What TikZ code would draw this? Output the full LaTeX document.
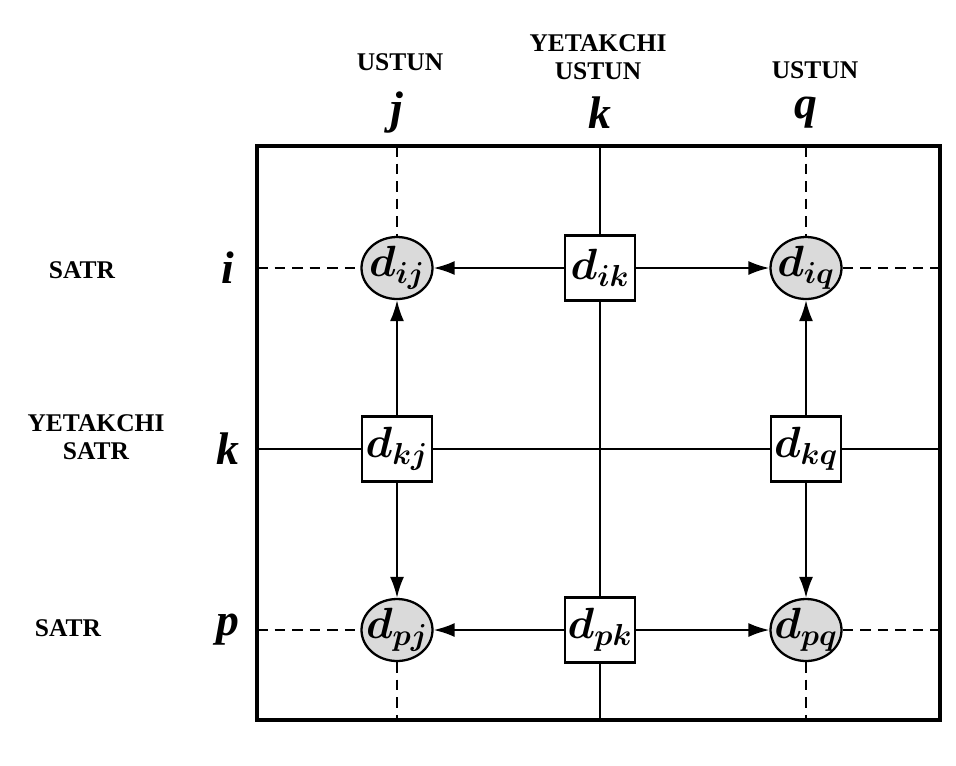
\documentclass[tikz,border=0pt]{standalone}
\usepackage{fontspec}
\setmainfont{Liberation Serif}
\usetikzlibrary{shapes.geometric,arrows.meta}
\definecolor{CellGray}{HTML}{DADADA}
\tikzset{
  pivot/.style={draw,line width=1.3pt,fill=white,minimum width=1.4cm,minimum height=1.3cm,inner sep=0pt,font=\fontsize{23}{27}\selectfont\boldmath},
  cell/.style={ellipse,draw,line width=1.3pt,fill=CellGray,minimum width=1.42cm,minimum height=1.24cm,inner xsep=-7pt,inner ysep=0pt,font=\fontsize{23}{27}\selectfont\boldmath},
  gridline/.style={line width=1.6pt},
  sideline/.style={line width=1.1pt,dash pattern=on 6pt off 4pt},
  update/.style={line width=1.2pt,-{Latex[length=4.2mm,width=2.8mm]}},
  caption/.style={font=\fontsize{14.5}{16}\selectfont\bfseries,align=center},
  index/.style={font=\fontsize{26}{28}\selectfont\bfseries\itshape}
}

\begin{document}
\begin{tikzpicture}[x=0.02cm,y=-0.02cm]
  \useasboundingbox (0,0) rectangle (956,765);
  % frame and border points
  \draw[line width=1.8pt] (257,146) rectangle (940,720);
  \coordinate (jT) at (397,146);  \coordinate (jB) at (397,720);
  \coordinate (kT) at (600,146);  \coordinate (kB) at (600,720);
  \coordinate (qT) at (806,146);  \coordinate (qB) at (806,720);
  \coordinate (iL) at (257,268);  \coordinate (iR) at (940,268);
  \coordinate (kL) at (257,449);  \coordinate (kR) at (940,449);
  \coordinate (pL) at (257,630);  \coordinate (pR) at (940,630);
  % elements
  \node[cell]  (dij) at (397,268) {$d_{ij}$};
  \node[pivot] (dik) at (600,268) {$d_{ik}$};
  \node[cell]  (diq) at (806,268) {$d_{iq}$};
  \node[pivot] (dkj) at (397,449) {$d_{kj}$};
  \node[pivot] (dkq) at (806,449) {$d_{kq}$};
  \node[cell]  (dpj) at (397,630) {$d_{pj}$};
  \node[pivot] (dpk) at (600,630) {$d_{pk}$};
  \node[cell]  (dpq) at (806,630) {$d_{pq}$};
  % pivot row and column
  \draw[gridline] (kT) -- (dik) (dik) -- (dpk) (dpk) -- (kB);
  \draw[gridline] (kL) -- (dkj) (dkj) -- (dkq) (dkq) -- (kR);
  % other rows and columns
  \draw[sideline] (jT) -- (dij) (dpj) -- (jB);
  \draw[sideline] (qT) -- (diq) (dpq) -- (qB);
  \draw[sideline] (iL) -- (dij) (diq) -- (iR);
  \draw[sideline] (pL) -- (dpj) (dpq) -- (pR);
  % updates
  \foreach \from/\to in {dik/dij,dik/diq,dpk/dpj,dpk/dpq,dkj/dij,dkj/dpj,dkq/diq,dkq/dpq}
    \draw[update] (\from) -- (\to);
  % indices
  \node[index] (cj) at (397,113) {j};
  \node[index] (ck) at (600,113) {k};
  \node[index] (cq) at (806,113) {q};
  \node[index] (ri) at (228,268) {i};
  \node[index] (rk) at (228,449) {k};
  \node[index] (rp) at (228,630) {p};
  % captions
  \node[caption] (tj) at (400,62) {USTUN};
  \node[caption] (tk) at (598,57) {YETAKCHI\\USTUN};
  \node[caption] (tq) at (815,70) {USTUN};
  \node[caption] (si) at (82,270) {SATR};
  \node[caption] (sk) at (96,437) {YETAKCHI\\SATR};
  \node[caption] (sp) at (68,628) {SATR};
\end{tikzpicture}
\end{document}
